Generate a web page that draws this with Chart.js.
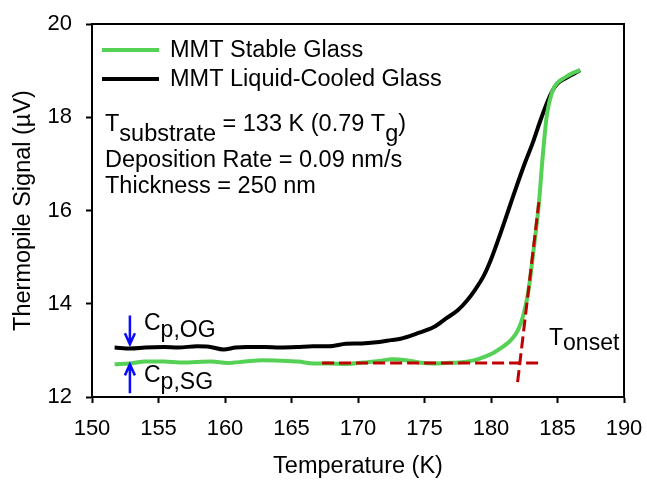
<!DOCTYPE html>
<html>
<head>
<meta charset="utf-8">
<script src="https://cdn.jsdelivr.net/npm/chart.js@4.4.1/dist/chart.umd.min.js"></script>
<style>
  html, body { margin: 0; padding: 0; background: #fff; }
  #wrap { width: 647px; height: 481px; }
</style>
</head>
<body>
<div id="wrap"><canvas id="chartDSC"></canvas></div>
<script>
// Señal de la termopila vs. temperatura para MMT (vidrio estable y enfriado desde el líquido)

// ── Vidrio enfriado desde el líquido (negro) ──
const tempLC = [151.7, 152.9, 154.0, 155.4, 156.5, 157.9, 158.8, 159.9, 160.8, 161.6,
                163.0, 164.1, 165.4, 166.6, 167.8, 169.1, 170.3, 171.6, 172.5, 173.2,
                174.4, 175.7, 176.6, 177.5, 178.2, 178.8, 179.4, 180.0, 180.7, 181.3,
                181.9, 182.5, 183.2, 183.7, 184.2, 184.6, 185.0, 185.7, 186.2, 186.7];
const signalLC = [13.06, 13.04, 13.06, 13.07, 13.06, 13.09, 13.08, 13.02, 13.06, 13.07,
                  13.07, 13.06, 13.07, 13.09, 13.09, 13.14, 13.15, 13.18, 13.22, 13.25,
                  13.36, 13.50, 13.68, 13.86, 14.07, 14.30, 14.57, 14.95, 15.50, 16.00,
                  16.50, 16.98, 17.50, 17.92, 18.30, 18.56, 18.72, 18.85, 18.93, 19.01];

// ── Vidrio estable (verde) ──
const tempSG = [151.7, 152.9, 154.0, 155.4, 156.6, 157.9, 159.0, 160.2, 161.5, 162.8,
                164.2, 165.5, 166.7, 167.9, 169.1, 170.4, 171.6, 172.6, 173.6, 174.6,
                175.6, 176.6, 177.6, 178.6, 179.4, 180.2, 180.9, 181.5, 182.0, 182.4,
                182.8, 183.2, 183.6, 183.9, 184.2, 184.6, 185.0, 185.6, 186.1, 186.7];
const signalSG = [12.70, 12.72, 12.76, 12.76, 12.74, 12.75, 12.76, 12.73, 12.76, 12.79,
                  12.78, 12.76, 12.72, 12.72, 12.71, 12.74, 12.77, 12.81, 12.79, 12.74,
                  12.72, 12.73, 12.74, 12.78, 12.85, 12.95, 13.08, 13.22, 13.42, 13.72,
                  14.25, 15.15, 16.15, 17.20, 18.05, 18.55, 18.74, 18.86, 18.94, 19.01];

// ── Construcción de T_onset (líneas rojas punteadas) ──
const baseT = [167.3, 183.7];
const baseV = [12.73, 12.73];
const tangT = [182.0, 183.6];
const tangV = [12.32, 16.18];

// ── Flechas de Cp (azules): [cola, punta] ──
const flechaT = 152.85;
const flechaOG = [13.75, 13.13];
const flechaSG = [12.08, 12.70];

// ── Ticks ──
const xTicks = [150, 155, 160, 165, 170, 175, 180, 185, 190];
const yTicks = [12, 14, 16, 18, 20];

const FONT = "'Liberation Sans', Arial, sans-serif";
const VERDE = '#55d155';
const ROJO = '#c00000';
const AZUL = '#0a0aff';

const pares = (xs, ys) => xs.map((t, i) => ({ x: t, y: ys[i] }));

// Escribe tramos de texto seguidos, cada uno con su desplazamiento vertical (subíndices)
function tramos(ctx, x, y, partes) {
    partes.forEach(([txt, dy]) => {
        ctx.fillText(txt, x, y + dy);
        x += ctx.measureText(txt).width;
    });
}

function flecha(ctx, px, y0, y1) {
    const dir = Math.sign(y1 - y0);
    ctx.beginPath();
    ctx.moveTo(px, y0);
    ctx.lineTo(px, y1);
    ctx.moveTo(px - 5, y1 - dir * 11);
    ctx.lineTo(px, y1);
    ctx.lineTo(px + 5, y1 - dir * 11);
    ctx.stroke();
}

const anotaciones = {
    id: 'anotaciones',
    afterDraw(chart) {
        const { ctx, chartArea: a, scales: { x, y } } = chart;
        ctx.save();

        // marco completo
        ctx.strokeStyle = '#000';
        ctx.lineWidth = 2;
        ctx.strokeRect(a.left, a.top, a.right - a.left, a.bottom - a.top);

        // leyenda
        ctx.lineWidth = 4;
        ctx.strokeStyle = VERDE;
        ctx.beginPath(); ctx.moveTo(102, 50); ctx.lineTo(159, 50); ctx.stroke();
        ctx.strokeStyle = '#000';
        ctx.beginPath(); ctx.moveTo(102, 79); ctx.lineTo(159, 79); ctx.stroke();

        ctx.fillStyle = '#000';
        ctx.textBaseline = 'alphabetic';
        ctx.textAlign = 'left';
        ctx.font = `23.5px ${FONT}`;
        ctx.fillText('MMT Stable Glass', 170, 57);
        ctx.fillText('MMT Liquid-Cooled Glass', 170, 86);

        // condiciones de depósito
        tramos(ctx, 105, 130.5, [['T', 0], ['substrate', 10.5], [' = 133 K (0.79 T', 0], ['g', 10], [')', 0]]);
        ctx.fillText('Deposition Rate = 0.09 nm/s', 105, 167);
        ctx.fillText('Thickness = 250 nm', 105, 192.5);

        // etiquetas de Cp y T_onset
        ctx.font = `23px ${FONT}`;
        tramos(ctx, 144, 330, [['C', 0], ['p,OG', 7]]);
        tramos(ctx, 144, 381.5, [['C', 0], ['p,SG', 7]]);
        tramos(ctx, 549, 345, [['T', 0], ['onset', 5]]);

        // flechas
        ctx.strokeStyle = AZUL;
        ctx.lineWidth = 2.5;
        const px = x.getPixelForValue(flechaT);
        flecha(ctx, px, y.getPixelForValue(flechaOG[0]), y.getPixelForValue(flechaOG[1]));
        flecha(ctx, px, y.getPixelForValue(flechaSG[0]), y.getPixelForValue(flechaSG[1]));

        ctx.restore();
    }
};

const ejeTicks = (valores) => (s) => { s.ticks = valores.map(v => ({ value: v })); };

// tamaño fijo de los ejes; sin relleno extra por las etiquetas de los extremos
const fijarEje = (ancho, alto) => (s) => {
    if (ancho !== null) s.width = ancho;
    if (alto !== null) s.height = alto;
    s.paddingLeft = s.paddingRight = s.paddingTop = s.paddingBottom = 0;
};

new Chart(document.getElementById('chartDSC'), {
    type: 'scatter',
    data: {
        datasets: [
            {
                label: 'Tangente',
                data: pares(tangT, tangV),
                showLine: true,
                borderColor: ROJO,
                borderWidth: 3,
                borderDash: [12, 5],
                pointRadius: 0,
                order: 0,
            },
            {
                label: 'Línea base',
                data: pares(baseT, baseV),
                showLine: true,
                borderColor: ROJO,
                borderWidth: 3,
                borderDash: [12, 5],
                pointRadius: 0,
                order: 0,
            },
            {
                label: 'MMT Stable Glass',
                data: pares(tempSG, signalSG),
                showLine: true,
                borderColor: VERDE,
                borderWidth: 4,
                pointRadius: 0,
                cubicInterpolationMode: 'monotone',
                order: 1,
            },
            {
                label: 'MMT Liquid-Cooled Glass',
                data: pares(tempLC, signalLC),
                showLine: true,
                borderColor: '#000',
                borderWidth: 4,
                pointRadius: 0,
                cubicInterpolationMode: 'monotone',
                order: 2,
            },
        ],
    },
    options: {
        responsive: true,
        maintainAspectRatio: false,
        animation: false,
        layout: { padding: { top: 24, right: 23, left: 0, bottom: 0 } },
        plugins: {
            legend: { display: false },
            tooltip: { enabled: false },
        },
        scales: {
            x: {
                type: 'linear',
                min: 150,
                max: 190,
                afterBuildTicks: ejeTicks(xTicks),
                afterFit: fijarEje(null, 84),
                ticks: { color: '#000', font: { family: FONT, size: 22 }, padding: 13 },
                grid: { drawOnChartArea: false, tickLength: 6, tickWidth: 2, color: '#000' },
                border: { color: '#000', width: 2 },
                title: {
                    display: true,
                    text: 'Temperature (K)',
                    color: '#000',
                    font: { family: FONT, size: 23.5 },
                    padding: { top: 0, bottom: 0 },
                },
            },
            y: {
                type: 'linear',
                min: 12,
                max: 20,
                afterBuildTicks: ejeTicks(yTicks),
                afterFit: fijarEje(92, null),
                ticks: { color: '#000', font: { family: FONT, size: 22 }, padding: 14 },
                grid: { drawOnChartArea: false, tickLength: 6, tickWidth: 2, color: '#000' },
                border: { color: '#000', width: 2 },
                title: {
                    display: true,
                    text: 'Thermopile Signal (\u00b5V)',
                    color: '#000',
                    font: { family: FONT, size: 23.5 },
                    padding: { top: 9, bottom: 0 },
                },
            },
        },
    },
    plugins: [anotaciones],
});
</script>
</body>
</html>
